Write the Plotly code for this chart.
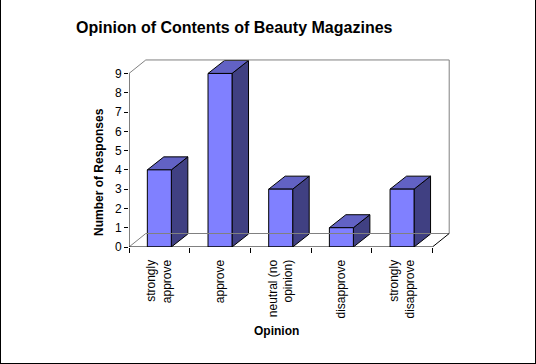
import plotly.graph_objects as go

# ---- data ----
categories = ["strongly<br>approve", "approve", "neutral (no<br>opinion)", "disapprove", "strongly<br>disapprove"]
values = [4, 9, 3, 1, 3]
y_ticks = [0, 1, 2, 3, 4, 5, 6, 7, 8, 9]

title = "Opinion of Contents of Beauty Magazines"
x_title = "Opinion"
y_title = "Number of Responses"

FONT = "Liberation Sans, Arial, sans-serif"
FRONT = "#8080FF"
TOP = "#6262C4"
SIDE = "#404082"
WALL = "#808080"

# layout geometry (pixels)
W, H = 536, 364
ML, MR, MT, MB = 129, 86, 59, 117
PW, PH = W - ML - MR, H - MT - MB
n = len(categories)
ymax_axis = max(y_ticks)
x_range = [-0.5, n - 0.5 + 0.29]
y_range = [0, ymax_axis + 0.75]
px_x = PW / (x_range[1] - x_range[0])
px_y = PH / (y_range[1] - y_range[0])

# depth offsets in data units
dxw, dyw = 16.8 / px_x, 13.5 / px_y   # walls/floor
dxb, dyb = 16.5 / px_x, 13.0 / px_y   # bars
hw = 12.0 / px_x                      # bar half width

fig = go.Figure()

def poly(xs, ys, fill, line="black", xaxis="x", width=1, closed=True):
    if closed:
        xs = list(xs) + [xs[0]]
        ys = list(ys) + [ys[0]]
    fig.add_trace(go.Scatter(
        x=xs, y=ys, mode="lines", xaxis=xaxis,
        fill="toself" if fill else None, fillcolor=fill,
        line=dict(color=line, width=width),
        hoverinfo="skip", showlegend=False))

x0, x1 = -0.5, n - 0.5
# back wall / floor (gray lines)
poly([x0, x0 + dxw, x1 + dxw, x1 + dxw, x0 + dxw],
     [ymax_axis, ymax_axis + dyw, ymax_axis + dyw, dyw, dyw], None, line=WALL, xaxis="x2", closed=False)
poly([x0, x0 + dxw], [0, dyw], None, line=WALL, xaxis="x2", closed=False)
# right floor edge
poly([x1, x1 + dxw], [0, dyw], None, line="black", xaxis="x2", closed=False)
# axes lines
poly([x0, x0], [0, ymax_axis], None, line="black", xaxis="x2", closed=False)
poly([x0, x1], [0, 0], None, line="black", xaxis="x2", closed=False)

# bars
for i, v in enumerate(values):
    c = i
    l, r = c - hw, c + hw
    poly([r, r + dxb, r + dxb, r], [0, dyb, v + dyb, v], SIDE)
    poly([l, r, r + dxb, l + dxb], [v, v, v + dyb, v + dyb], TOP)
    poly([l, r, r, l], [0, 0, v, v], FRONT)

def px2paper_x(p):
    return (p - ML) / PW

def px2paper_y(p):
    return (H - MB - p) / PH

fig.update_layout(
    template="none",
    width=W, height=H, autosize=False,
    margin=dict(l=ML, r=MR, t=MT, b=MB, pad=0, autoexpand=False),
    paper_bgcolor="white", plot_bgcolor="white",
    font=dict(family=FONT, size=12, color="black"),
    title=dict(text=title, x=76 / W, xref="container", xanchor="left",
               y=1 - 27 / H, yref="container", yanchor="middle", automargin=False,
               font=dict(family=FONT, size=16, color="black", weight="bold")),
    xaxis=dict(range=x_range, tickmode="array", tickvals=list(range(n)), ticktext=categories,
               tickangle=-90, ticks="outside", ticklen=7, tickcolor="rgba(0,0,0,0)",
               showgrid=False, zeroline=False, showline=False, automargin=False,
               tickfont=dict(family=FONT, size=12, color="black"), fixedrange=True),
    xaxis2=dict(range=x_range, overlaying="x", side="bottom", anchor="y",
                tickmode="array", tickvals=[k - 0.5 for k in range(n + 1)],
                showticklabels=False, ticks="outside", ticklen=5, tickcolor="black", tickwidth=1,
                showgrid=False, zeroline=False, showline=False, automargin=False, fixedrange=True),
    yaxis=dict(range=y_range, tickmode="array", tickvals=y_ticks,
               ticks="outside", ticklen=4, tickcolor="black", tickwidth=1,
               showgrid=False, zeroline=False, showline=False, automargin=False,
               tickfont=dict(family=FONT, size=12, color="black"), fixedrange=True),
    annotations=[
        dict(text=y_title, x=px2paper_x(99), y=px2paper_y(172), xref="paper", yref="paper",
             textangle=-90, showarrow=False, xanchor="center", yanchor="middle",
             font=dict(family=FONT, size=12, color="black", weight="bold")),
        dict(text=x_title, x=px2paper_x(276), y=px2paper_y(331), xref="paper", yref="paper",
             showarrow=False, xanchor="center", yanchor="middle",
             font=dict(family=FONT, size=12, color="black", weight="bold")),
    ],
    shapes=[
        dict(type="line", xref="paper", yref="paper",
             x0=px2paper_x(0.5), x1=px2paper_x(0.5), y0=px2paper_y(-2), y1=px2paper_y(363.5),
             line=dict(color="black", width=1)),
        dict(type="line", xref="paper", yref="paper",
             x0=px2paper_x(535.5), x1=px2paper_x(535.5), y0=px2paper_y(-2), y1=px2paper_y(363.5),
             line=dict(color="black", width=1)),
        dict(type="line", xref="paper", yref="paper",
             x0=px2paper_x(0), x1=px2paper_x(536), y0=px2paper_y(363.5), y1=px2paper_y(363.5),
             line=dict(color="black", width=1)),
    ],
)

fig.write_html("out.html", config={"displayModeBar": False},
               post_script="document.body.style.margin='0';document.body.style.padding='0';"
                           "document.body.style.overflow='hidden';")
